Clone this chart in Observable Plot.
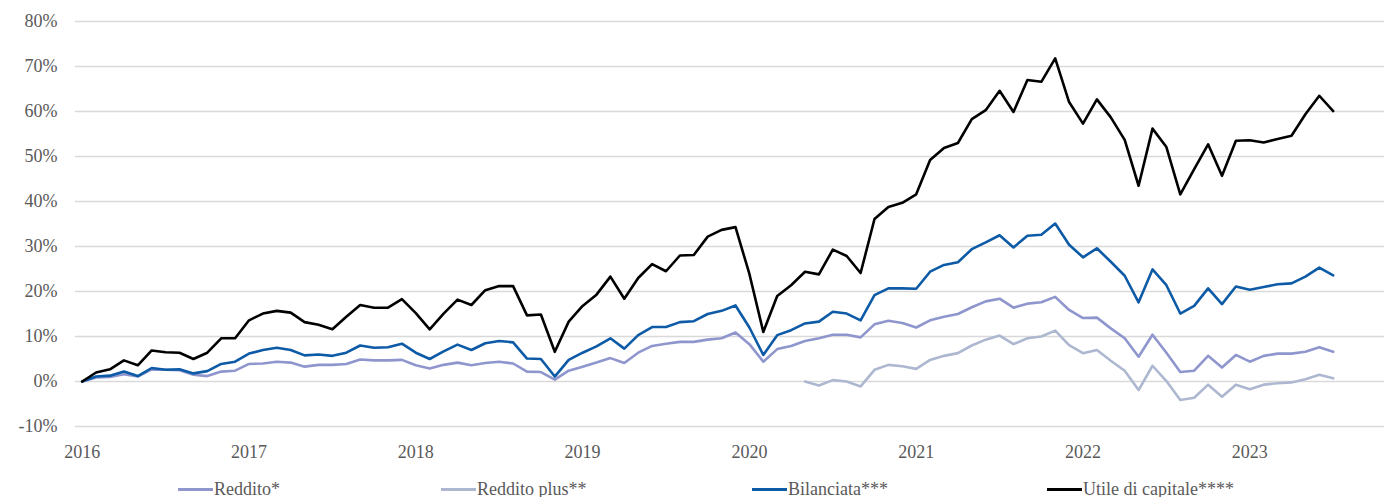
<!DOCTYPE html>
<html>
<head>
<meta charset="utf-8">
<script src="https://cdn.jsdelivr.net/npm/d3@7"></script>
<script src="https://cdn.jsdelivr.net/npm/@observablehq/plot@0.6"></script>
<style>
  html, body { margin: 0; padding: 0; background: #fff; overflow: hidden; }
  #wrap { position: relative; width: 1384px; height: 497px; }
  #legend { position: absolute; left: 0; top: 479px; width: 1384px; height: 20px; font-family: "Liberation Serif", "Times New Roman", serif; font-size: 18px; color: #595959; }
  .item { position: absolute; top: 0; height: 20px; line-height: 20px; display: flex; align-items: center; white-space: nowrap; }
  .sw { width: 35px; height: 3px; margin-right: 1px; }
</style>
</head>
<body>
<div id="wrap">
  <div id="chart"></div>
  <div id="legend"></div>
</div>
<script>
// Series names
const seriesNames = ["Reddito*", "Reddito plus**", "Bilanciata***", "Utile di capitale****"];
const seriesColors = ["#8F96CD", "#ADB8D0", "#0D5AA6", "#000000"];

// Year tick labels (January of each year)
const yearLabels = ["2016", "2017", "2018", "2019", "2020", "2021", "2022", "2023"];

// Monthly cumulative returns (%), Jan 2016 - Jul 2023
const reddito = [
  0, 0.9, 1.0, 1.6, 1.1, 2.7, 2.6, 2.5, 1.5, 1.2, 2.2, 2.4,
  3.9, 4.0, 4.4, 4.2, 3.3, 3.7, 3.7, 3.9, 4.9, 4.7, 4.7, 4.8,
  3.6, 2.9, 3.7, 4.2, 3.6, 4.1, 4.4, 4.0, 2.2, 2.1, 0.4, 2.4,
  3.3, 4.2, 5.2, 4.1, 6.4, 7.9, 8.4, 8.8, 8.8, 9.3, 9.6, 10.9,
  8.3, 4.4, 7.2, 7.9, 9.0, 9.6, 10.4, 10.4, 9.8, 12.7, 13.5, 13.0,
  12.0, 13.6, 14.4, 15.0, 16.5, 17.8, 18.4, 16.4, 17.3, 17.6, 18.8, 15.9,
  14.1, 14.2, 11.8, 9.6, 5.5, 10.4, 6.4, 2.1, 2.4, 5.7, 3.1, 5.9,
  4.4, 5.7, 6.2, 6.2, 6.6, 7.6, 6.6
];
const redditoPlus = [
  null, null, null, null, null, null, null, null, null, null, null, null,
  null, null, null, null, null, null, null, null, null, null, null, null,
  null, null, null, null, null, null, null, null, null, null, null, null,
  null, null, null, null, null, null, null, null, null, null, null, null,
  null, null, null, null, 0.0, -0.9, 0.3, 0.0, -1.1, 2.6, 3.7, 3.4,
  2.8, 4.8, 5.7, 6.3, 8.0, 9.3, 10.2, 8.3, 9.6, 10.0, 11.3, 8.1,
  6.3, 7.0, 4.6, 2.4, -1.9, 3.5, 0.1, -4.1, -3.6, -0.7, -3.4, -0.7,
  -1.7, -0.7, -0.4, -0.2, 0.5, 1.5, 0.7
];
const bilanciata = [
  0, 1.1, 1.3, 2.2, 1.2, 3.0, 2.6, 2.7, 1.8, 2.3, 3.9, 4.4,
  6.2, 7.0, 7.5, 7.0, 5.8, 6.0, 5.7, 6.4, 8.0, 7.5, 7.6, 8.4,
  6.4, 5.0, 6.7, 8.2, 7.0, 8.5, 9.0, 8.7, 5.1, 5.0, 1.1, 4.8,
  6.4, 7.8, 9.6, 7.3, 10.3, 12.1, 12.1, 13.2, 13.4, 15.0, 15.7, 16.9,
  12.0, 5.9, 10.3, 11.4, 12.9, 13.3, 15.5, 15.1, 13.6, 19.2, 20.7, 20.7,
  20.6, 24.4, 25.9, 26.5, 29.4, 30.9, 32.5, 29.8, 32.4, 32.6, 35.1, 30.4,
  27.6, 29.6, 26.6, 23.5, 17.6, 24.9, 21.4, 15.1, 16.8, 20.7, 17.2, 21.1,
  20.4, 21.0, 21.6, 21.8, 23.3, 25.3, 23.6
];
const utileCapitale = [
  0, 2.0, 2.7, 4.7, 3.6, 6.9, 6.5, 6.4, 5.0, 6.4, 9.6, 9.6,
  13.6, 15.1, 15.7, 15.3, 13.2, 12.6, 11.6, 14.4, 17.0, 16.4, 16.4, 18.3,
  15.2, 11.6, 15.1, 18.2, 17.0, 20.3, 21.2, 21.2, 14.7, 14.9, 6.6, 13.3,
  16.8, 19.3, 23.3, 18.4, 23.0, 26.1, 24.5, 28.0, 28.1, 32.2, 33.7, 34.3,
  23.9, 11.0, 19.0, 21.4, 24.4, 23.8, 29.3, 27.9, 24.1, 36.1, 38.8, 39.7,
  41.6, 49.2, 51.9, 53.0, 58.3, 60.3, 64.6, 59.9, 67.0, 66.6, 71.8, 62.1,
  57.3, 62.7, 58.7, 53.7, 43.5, 56.2, 52.1, 41.6, 47.2, 52.7, 45.7, 53.5,
  53.6, 53.1, 53.9, 54.6, 59.4, 63.5, 60.1
];

const seriesValues = [reddito, redditoPlus, bilanciata, utileCapitale];

// Long table built from the arrays (month index -> value)
const rows = [];
seriesValues.forEach((vals, s) => {
  vals.forEach((v, i) => {
    if (v !== null) rows.push({ m: i, value: v, series: seriesNames[s] });
  });
});

const font = '"Liberation Serif", "Times New Roman", serif';
const W = 1384, H = 470;
const mLeft = 75, mRight = 0;
const firstX = 81.7, step = 13.9;

const chart = Plot.plot({
  width: W,
  height: H,
  marginLeft: mLeft,
  marginRight: mRight,
  marginTop: 21,
  marginBottom: 44,
  style: { fontFamily: font, fontSize: "18px", color: "#595959", background: "#fff" },
  x: {
    type: "linear",
    domain: [(mLeft - firstX) / step, (W - mRight - firstX) / step]
  },
  y: { domain: [-10, 80] },
  color: { domain: seriesNames, range: seriesColors },
  marks: [
    Plot.gridY(d3.range(-10, 81, 10), { stroke: "#D9D9D9", strokeOpacity: 1, strokeWidth: 1.5 }),
    Plot.axisY(d3.range(-10, 81, 10), {
      tickSize: 0, tickPadding: 18, tickFormat: d => d + "%",
      fontSize: 18, fill: "#595959", label: null
    }),
    Plot.axisX(yearLabels.map((_, i) => i * 12), {
      tickSize: 0, tickPadding: 19, tickFormat: (d, i) => yearLabels[i],
      fontSize: 18, fill: "#595959", label: null
    }),
    Plot.line(rows, {
      x: "m", y: "value", z: "series", stroke: "series",
      strokeWidth: 2.6, strokeLinejoin: "round", strokeLinecap: "round"
    })
  ]
});
document.getElementById("chart").appendChild(chart);

// Legend below the chart
const legendLefts = [178, 441, 752, 1047];
const legend = document.getElementById("legend");
seriesNames.forEach((name, i) => {
  const it = document.createElement("div");
  it.className = "item";
  it.style.left = legendLefts[i] + "px";
  const sw = document.createElement("span");
  sw.className = "sw";
  sw.style.background = seriesColors[i];
  const tx = document.createElement("span");
  tx.textContent = name;
  it.appendChild(sw);
  it.appendChild(tx);
  legend.appendChild(it);
});
</script>
</body>
</html>
